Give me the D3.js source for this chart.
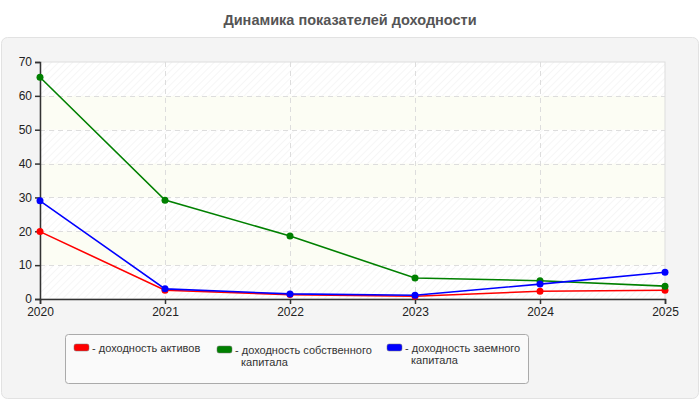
<!DOCTYPE html>
<html>
<head>
<meta charset="utf-8">
<script src="https://d3js.org/d3.v7.min.js"></script>
<style>
  body { margin: 0; background: #fff; }
  svg { font-family: "Liberation Sans", Arial, sans-serif; }
</style>
</head>
<body>
<svg width="700" height="400"></svg>
<script>
  // данные графика
  const years = ["2020", "2021", "2022", "2023", "2024", "2025"];
  const assetsReturn = [19.9, 2.6, 1.3, 0.8, 2.3, 2.6];
  const equityReturn = [65.5, 29.2, 18.6, 6.2, 5.4, 3.8];
  const debtReturn = [29.0, 3.0, 1.5, 1.1, 4.4, 7.9];
  const yTicks = [0, 10, 20, 30, 40, 50, 60, 70];

  const series = [
    { name: "- доходность активов", lines: ["- доходность активов"], color: "red", values: assetsReturn },
    { name: "- доходность собственного капитала", lines: ["- доходность собственного", "капитала"], color: "green", values: equityReturn },
    { name: "- доходность заемного капитала", lines: ["- доходность заемного", "капитала"], color: "blue", values: debtReturn }
  ];

  const svg = d3.select("svg");
  const margin = { left: 40, right: 35, top: 62, bottom: 101 };
  const W = 700, H = 400;

  const x = d3.scalePoint().domain(years).range([margin.left, W - margin.right]);
  const y = d3.scaleLinear().domain([0, 70]).range([H - margin.bottom, margin.top]);

  // заголовок
  svg.append("text")
    .attr("x", 350).attr("y", 25)
    .attr("text-anchor", "middle")
    .attr("font-size", 14.5).attr("font-weight", "bold")
    .attr("fill", "#555")
    .text("Динамика показателей доходности");

  // фон-панель
  svg.append("rect")
    .attr("x", 1.5).attr("y", 37.5).attr("width", 697).attr("height", 361)
    .attr("rx", 6)
    .attr("fill", "#f4f4f4").attr("stroke", "#e2e2e2");

  // штриховка
  const defs = svg.append("defs");
  const pat = defs.append("pattern")
    .attr("id", "hatch").attr("width", 5).attr("height", 5)
    .attr("patternUnits", "userSpaceOnUse")
    .attr("patternTransform", "rotate(45)");
  pat.append("line").attr("x1", 0).attr("y1", 0).attr("x2", 0).attr("y2", 5)
    .attr("stroke", "#eeeeee").attr("stroke-width", 1);

  const x0 = x.range()[0], x1 = x.range()[1];
  svg.append("rect")
    .attr("x", x0).attr("y", y(70)).attr("width", x1 - x0).attr("height", y(0) - y(70))
    .attr("fill", "#fff");

  // полосы
  svg.append("g").selectAll("rect")
    .data(d3.range(0, 70, 10).filter(v => (v / 10) % 2 === 1))
    .join("rect")
    .attr("x", x0).attr("width", x1 - x0)
    .attr("y", d => y(d + 10)).attr("height", d => y(d) - y(d + 10))
    .attr("fill", "#fcfdf4");

  svg.append("g").selectAll("rect")
    .data(d3.range(0, 70, 10).filter(v => (v / 10) % 2 === 0))
    .join("rect")
    .attr("x", x0).attr("width", x1 - x0)
    .attr("y", d => y(d + 10)).attr("height", d => y(d) - y(d + 10))
    .attr("fill", "url(#hatch)");

  // рамка
  svg.append("rect")
    .attr("x", x0).attr("y", y(70)).attr("width", x1 - x0).attr("height", y(0) - y(70))
    .attr("fill", "none").attr("stroke", "#ddd");

  // сетка
  svg.append("g").selectAll("line")
    .data(yTicks.slice(1, -1))
    .join("line")
    .attr("x1", x0).attr("x2", x1)
    .attr("y1", d => Math.round(y(d)) + 0.5).attr("y2", d => Math.round(y(d)) + 0.5)
    .attr("stroke", "#ddd").attr("stroke-dasharray", "5,4");
  svg.append("g").selectAll("line")
    .data(years.slice(1, -1))
    .join("line")
    .attr("x1", d => Math.round(x(d)) + 0.5).attr("x2", d => Math.round(x(d)) + 0.5)
    .attr("y1", y(70)).attr("y2", y(0))
    .attr("stroke", "#ddd").attr("stroke-dasharray", "5,4");

  // оси
  const yAxis = svg.append("g")
    .attr("transform", `translate(${x0},0)`)
    .call(d3.axisLeft(y).tickValues(yTicks).tickSize(5).tickPadding(3));
  const xAxis = svg.append("g")
    .attr("transform", `translate(0,${y(0)})`)
    .call(d3.axisBottom(x).tickSize(5).tickPadding(3));
  [yAxis, xAxis].forEach(g => {
    g.select(".domain").attr("stroke", "#333").attr("stroke-width", 1.5);
    g.selectAll(".tick line").attr("stroke", "#333").attr("stroke-width", 1.5);
    g.selectAll("text").attr("font-size", 12).attr("fill", "#222")
      .attr("font-family", "Liberation Sans, Arial, sans-serif");
  });

  // линии
  const line = d3.line().x((d, i) => x(years[i])).y(d => y(d));
  series.forEach(s => {
    svg.append("path")
      .datum(s.values)
      .attr("d", line)
      .attr("fill", "none")
      .attr("stroke", s.color).attr("stroke-width", 1.6);
    svg.append("g").selectAll("circle")
      .data(s.values)
      .join("circle")
      .attr("cx", (d, i) => x(years[i]))
      .attr("cy", d => y(d))
      .attr("r", 3.5)
      .attr("fill", s.color);
  });

  // легенда
  svg.append("rect")
    .attr("x", 65.5).attr("y", 334.5).attr("width", 463).attr("height", 49)
    .attr("rx", 3)
    .attr("fill", "#fafafa").attr("stroke", "#aaa");

  const legendX = [74, 217, 387];
  const legendY = [344, 346, 344];
  const leg = svg.append("g").selectAll("g")
    .data(series)
    .join("g")
    .attr("transform", (d, i) => `translate(${legendX[i]},${legendY[i]})`);
  leg.append("rect")
    .attr("width", 15).attr("height", 7).attr("rx", 2)
    .attr("fill", d => d.color).attr("stroke", "#777").attr("stroke-width", 0.5);
  leg.each(function (d) {
    const t = d3.select(this).append("text")
      .attr("x", 18).attr("y", 8)
      .attr("font-size", 11).attr("fill", "#333");
    d.lines.forEach((ln, j) => {
      t.append("tspan")
        .attr("x", j === 0 ? 18 : 24)
        .attr("dy", j === 0 ? 0 : 12)
        .text(ln);
    });
  });
</script>
</body>
</html>
